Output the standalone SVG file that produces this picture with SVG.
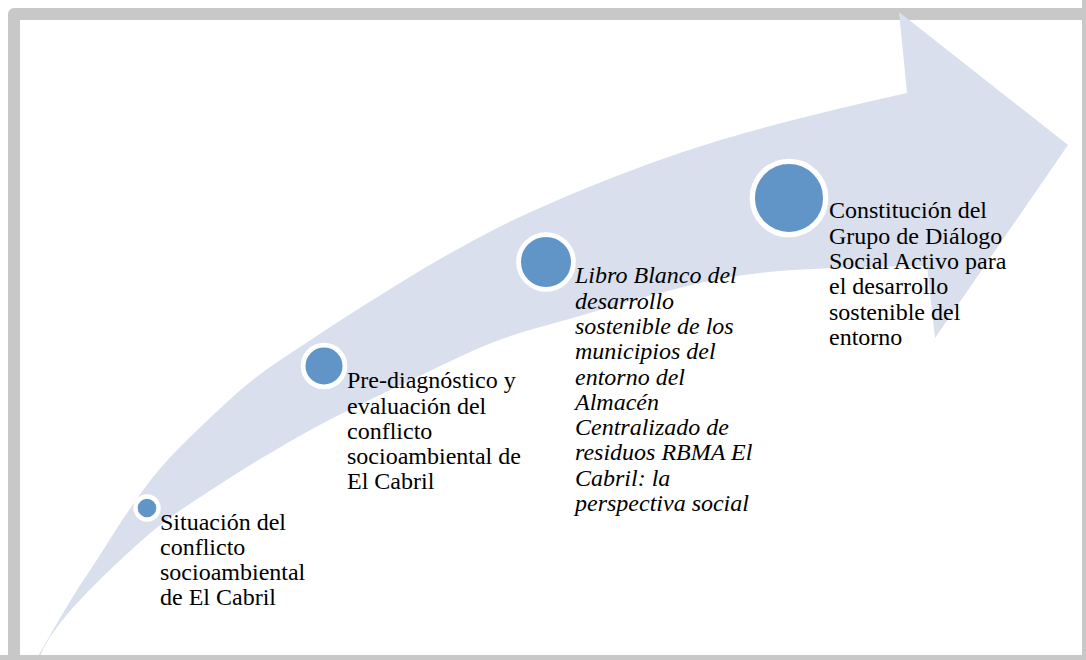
<svg xmlns="http://www.w3.org/2000/svg" width="1086" height="660" viewBox="0 0 1086 660">
<style>
.lbl{font-family:"Liberation Serif","Times New Roman",serif;font-size:24px;fill:#000}
.it{font-style:italic}
.dot{fill:#6195c8;stroke:#fff}
</style>
<rect width="1086" height="660" fill="#fff"/>
<rect id="frame" x="8" y="8" width="1092" height="664" rx="6" fill="#c8c8c8"/>
<rect x="20" y="20" width="1062" height="635" fill="#fff"/>
<g id="arrow">
<path fill="#d9dfed" d="M33,665 Q70,600 83.5,580 Q97,560 112,536 Q127,512 143.5,489.5 Q160,467 180,447 Q200,427 226.5,402.5 Q253,378 278,361.5 Q303,345 328,328.5 Q353,312 401.5,282 Q450,252 500,226.5 Q550,202 616.5,176 Q683,150 750,131.5 Q817,113 907,93 L899,12 L1068,145 L935,338 L927,266 Q827,267 780,271 Q733,275 691.5,285 Q650,295 613.5,306 Q577,317 538.5,327.5 Q500,338 470,352 Q440,366 410,380.5 Q380,395 350,409.5 Q320,424 286.5,443.5 Q253,463 226.5,480 Q200,497 180,510.5 Q160,524 140,542 Q120,560 103.5,576 Q87,592 73.5,607 Q60,622 50,637 Q40,652 36,668 Z"/>
</g>
<rect x="0" y="655" width="1086" height="5" fill="#c8c8c8"/>
<rect x="1082" y="0" width="4" height="660" fill="#c8c8c8"/>
<g id="connectors"></g>
<g id="node1">
<circle class="dot" cx="147" cy="508" r="11.5" stroke-width="4.4"/>
<text class="lbl" x="160" y="529.5">Situación del<tspan x="160" dy="25.3">conflicto</tspan><tspan x="160" dy="25.3">socioambiental</tspan><tspan x="160" dy="25.3">de El Cabril</tspan></text>
</g>
<g id="node2">
<circle class="dot" cx="324" cy="366" r="20.9" stroke-width="4.8"/>
<text class="lbl" x="347" y="388.3">Pre-diagnóstico y<tspan x="347" dy="25.2">evaluación del</tspan><tspan x="347" dy="25.2">conflicto</tspan><tspan x="347" dy="25.2">socioambiental de</tspan><tspan x="347" dy="25.2">El Cabril</tspan></text>
</g>
<g id="node3">
<circle class="dot" cx="546" cy="262" r="27.4" stroke-width="4.8"/>
<text class="lbl it" x="575" y="283.3">Libro Blanco del<tspan x="575" dy="25.3">desarrollo</tspan><tspan x="575" dy="25.3">sostenible de los</tspan><tspan x="575" dy="25.3">municipios del</tspan><tspan x="575" dy="25.3">entorno del</tspan><tspan x="575" dy="25.3">Almacén</tspan><tspan x="575" dy="25.3">Centralizado de</tspan><tspan x="575" dy="25.3">residuos RBMA El</tspan><tspan x="575" dy="25.3">Cabril: la</tspan><tspan x="575" dy="25.3">perspectiva social</tspan></text>
</g>
<g id="node4">
<circle class="dot" cx="789" cy="198" r="36.7" stroke-width="5.3"/>
<text class="lbl" x="829" y="218.3">Constitución del<tspan x="829" dy="25.3">Grupo de Diálogo</tspan><tspan x="829" dy="25.3">Social Activo para</tspan><tspan x="829" dy="25.3">el desarrollo</tspan><tspan x="829" dy="25.3">sostenible del</tspan><tspan x="829" dy="25.3">entorno</tspan></text>
</g>
</svg>
